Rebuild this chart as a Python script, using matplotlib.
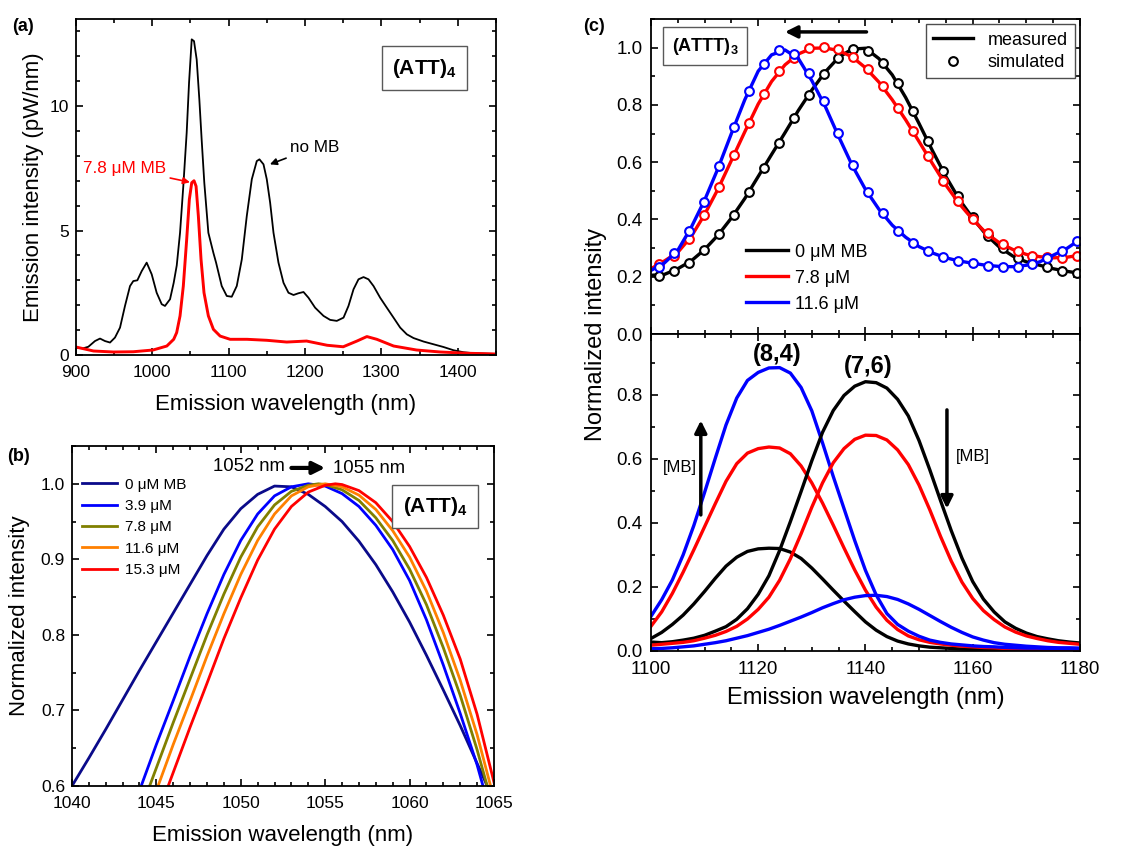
import matplotlib
matplotlib.use('Agg')
import matplotlib.pyplot as plt
from matplotlib.ticker import MultipleLocator, FormatStrFormatter

plt.rcParams['font.family'] = ['Liberation Sans', 'DejaVu Sans']
plt.rcParams['mathtext.fontset'] = 'custom'
plt.rcParams['mathtext.rm'] = 'Liberation Sans'
plt.rcParams['mathtext.bf'] = 'Liberation Sans:bold'
plt.rcParams['axes.linewidth'] = 1.3

# ---- panel (a): emission spectra of (ATT)4 ----
a_wl_nomb = [900, 909.6, 916.2, 924.9, 931.5, 938, 944.6, 951.1, 957.7, 964.2, 970.8, 975.1,
             980.4, 986.1, 992.6, 999.2, 1005.7, 1012.3, 1016.6, 1023.2, 1028, 1032, 1036.3,
             1040.6, 1045, 1048.1, 1051.6, 1054.6, 1058.1, 1061.6, 1064.6, 1068.1, 1073.4,
             1080, 1083.5, 1090.9, 1097.5, 1104, 1110.6, 1117.2, 1123.7, 1130.3, 1136.8,
             1140.3, 1145.6, 1149.9, 1154.3, 1158.7, 1165.2, 1171.8, 1178.3, 1184.9, 1191.4,
             1198, 1204.5, 1213.2, 1224.2, 1232.9, 1241.6, 1250.4, 1256.9, 1263.5, 1270,
             1276.6, 1283.1, 1289.7, 1298.4, 1307.1, 1315.9, 1324.6, 1333.3, 1342.1, 1355.2,
             1368.3, 1381.4, 1394.5, 1407.6, 1420.7, 1450]
a_int_nomb = [0.29, 0.27, 0.33, 0.56, 0.66, 0.56, 0.50, 0.70, 1.10, 1.97, 2.77, 2.97,
              3.00, 3.37, 3.71, 3.24, 2.50, 2.04, 1.97, 2.24, 2.90, 3.60, 4.91,
              6.79, 8.93, 10.94, 12.68, 12.61, 11.87, 10.26, 8.66, 6.91, 4.91,
              4.10, 3.71, 2.77, 2.37, 2.34, 2.77, 3.84, 5.58, 7.06, 7.79,
              7.86, 7.66, 7.06, 6.12, 4.91, 3.71, 2.90, 2.50, 2.41, 2.48,
              2.53, 2.30, 1.90, 1.57, 1.41, 1.37, 1.50, 1.97, 2.64, 3.04,
              3.13, 3.04, 2.77, 2.30, 1.90, 1.50, 1.10, 0.83, 0.68, 0.54,
              0.43, 0.32, 0.19, 0.11, 0.07, 0.04]
a_wl_mb = [900, 923, 949, 975, 1001, 1019, 1028, 1031.9, 1036.3, 1040.6, 1045, 1048.5, 1051.6,
           1054.6, 1057.3, 1060.3, 1063.8, 1067.7, 1073.4, 1080, 1088.8, 1101.9, 1124, 1150,
           1176, 1202, 1229, 1250, 1268, 1281, 1294, 1316, 1346, 1377, 1412, 1450]
a_int_mb = [0.32, 0.16, 0.12, 0.13, 0.20, 0.36, 0.63, 0.90, 1.57, 2.77, 4.64, 6.25, 6.92,
            7.00, 6.78, 5.58, 3.84, 2.50, 1.57, 1.03, 0.76, 0.63, 0.63, 0.59,
            0.52, 0.56, 0.39, 0.33, 0.56, 0.74, 0.63, 0.36, 0.20, 0.12, 0.07, 0.04]

# ---- panel (b): normalized peak region ----
b_labels = ['0 μM MB', '3.9 μM', '7.8 μM', '11.6 μM', '15.3 μM']
b_x_00 = [1040, 1041, 1042, 1043, 1044, 1045, 1046, 1047, 1048, 1049, 1050, 1051, 1052, 1053,
          1054, 1055, 1056, 1057, 1058, 1059, 1060, 1061, 1062, 1063, 1064, 1064.6]
b_y_00 = [0.600, 0.637, 0.675, 0.714, 0.753, 0.791, 0.829, 0.867, 0.905, 0.940, 0.967, 0.986,
          0.997, 0.996, 0.986, 0.970, 0.950, 0.924, 0.893, 0.857, 0.817, 0.773, 0.727, 0.680,
          0.630, 0.600]
b_x_39 = [1044.1, 1045, 1046, 1047, 1048, 1049, 1050, 1051, 1052, 1053, 1054, 1055, 1056,
          1057, 1058, 1059, 1060, 1061, 1062, 1063, 1064, 1064.35]
b_y_39 = [0.600, 0.655, 0.713, 0.772, 0.828, 0.880, 0.925, 0.960, 0.984, 0.996, 1.000, 0.997,
          0.987, 0.970, 0.945, 0.913, 0.872, 0.820, 0.760, 0.696, 0.628, 0.600]
b_x_78 = [1044.6, 1045, 1046, 1047, 1048, 1049, 1050, 1051, 1052, 1053, 1054, 1054.6, 1055,
          1056, 1057, 1058, 1059, 1060, 1061, 1062, 1063, 1064, 1064.6]
b_y_78 = [0.600, 0.624, 0.684, 0.742, 0.800, 0.854, 0.903, 0.943, 0.972, 0.990, 0.998, 1.000,
          0.999, 0.992, 0.978, 0.955, 0.925, 0.887, 0.840, 0.783, 0.720, 0.648, 0.600]
b_x_116 = [1045.1, 1046, 1047, 1048, 1049, 1050, 1051, 1052, 1053, 1054, 1055, 1056, 1057,
           1058, 1059, 1060, 1061, 1062, 1063, 1064, 1064.8]
b_y_116 = [0.600, 0.655, 0.713, 0.772, 0.828, 0.880, 0.925, 0.960, 0.984, 0.996, 1.000, 0.996,
           0.985, 0.966, 0.938, 0.903, 0.858, 0.803, 0.740, 0.668, 0.600]
b_x_153 = [1045.7, 1046, 1047, 1048, 1049, 1050, 1051, 1052, 1053, 1054, 1055, 1055.6, 1056,
           1057, 1058, 1059, 1060, 1061, 1062, 1063, 1064, 1065]
b_y_153 = [0.600, 0.618, 0.678, 0.736, 0.795, 0.849, 0.899, 0.940, 0.970, 0.989, 0.998, 1.000,
           0.999, 0.991, 0.975, 0.950, 0.917, 0.876, 0.826, 0.768, 0.695, 0.605]

# ---- panel (c) top: (ATTT)3 measured and simulated ----
c_labels = ['0 μM MB', '7.8 μM', '11.6 μM']
c_meas_x = [1100, 1102.5, 1105, 1107.5, 1110, 1112.5, 1115, 1117.5, 1120, 1122.5, 1125,
            1127.5, 1130, 1132.5, 1135, 1137.5, 1140, 1142.5, 1145, 1147.5, 1150, 1152.5,
            1155, 1157.5, 1160, 1162.5, 1165, 1167.5, 1170, 1172.5, 1175, 1177.5, 1180]
c_meas_0 = [0.205, 0.208, 0.228, 0.255, 0.295, 0.345, 0.405, 0.473, 0.550, 0.627, 0.703,
            0.781, 0.852, 0.915, 0.966, 0.995, 0.998, 0.962, 0.905, 0.826, 0.735, 0.640,
            0.550, 0.470, 0.405, 0.347, 0.303, 0.272, 0.252, 0.240, 0.228, 0.219, 0.212]
c_meas_78 = [0.228, 0.255, 0.285, 0.340, 0.417, 0.506, 0.606, 0.706, 0.803, 0.882, 0.940,
             0.978, 0.998, 0.999, 0.990, 0.968, 0.930, 0.880, 0.818, 0.748, 0.672, 0.595,
             0.520, 0.455, 0.400, 0.353, 0.318, 0.295, 0.278, 0.270, 0.266, 0.268, 0.275]
c_meas_116 = [0.222, 0.248, 0.292, 0.372, 0.467, 0.578, 0.700, 0.818, 0.918, 0.975, 0.992,
              0.962, 0.885, 0.795, 0.690, 0.590, 0.505, 0.436, 0.380, 0.338, 0.305, 0.283,
              0.266, 0.255, 0.247, 0.240, 0.236, 0.235, 0.240, 0.252, 0.275, 0.298, 0.330]
c_sim_x = [1101.5, 1104.3, 1107.1, 1109.9, 1112.7, 1115.5, 1118.2, 1121.0, 1123.8, 1126.6,
           1129.4, 1132.2, 1134.9, 1137.7, 1140.5, 1143.3, 1146.1, 1148.9, 1151.6, 1154.4,
           1157.2, 1160.0, 1162.8, 1165.6, 1168.4, 1171.1, 1173.9, 1176.7, 1179.5]
c_sim_0 = [0.203, 0.220, 0.249, 0.293, 0.349, 0.417, 0.495, 0.581, 0.666, 0.753, 0.834, 0.907,
           0.963, 0.994, 0.988, 0.947, 0.877, 0.780, 0.673, 0.571, 0.481, 0.409, 0.343, 0.299,
           0.267, 0.247, 0.233, 0.221, 0.214]
c_sim_78 = [0.243, 0.273, 0.331, 0.414, 0.513, 0.626, 0.737, 0.838, 0.917, 0.965, 0.998, 1.004,
            0.994, 0.968, 0.925, 0.867, 0.791, 0.708, 0.621, 0.536, 0.463, 0.401, 0.351, 0.314,
            0.290, 0.273, 0.268, 0.266, 0.273]
c_sim_116 = [0.235, 0.282, 0.359, 0.462, 0.586, 0.724, 0.849, 0.944, 0.991, 0.977, 0.913, 0.815,
             0.701, 0.591, 0.496, 0.421, 0.360, 0.319, 0.291, 0.270, 0.256, 0.247, 0.239, 0.235,
             0.235, 0.244, 0.264, 0.290, 0.324]

# ---- panel (c) bottom: (8,4) and (7,6) components ----
d_x = [1100, 1102, 1104, 1106, 1108, 1110, 1112, 1114, 1116, 1118, 1120, 1122, 1124, 1126,
       1128, 1130, 1132, 1134, 1136, 1138, 1140, 1142, 1144, 1146, 1148, 1150, 1152, 1154,
       1156, 1158, 1160, 1162, 1164, 1166, 1168, 1170, 1172, 1174, 1176, 1178, 1180]
d84_0 = [0.039, 0.058, 0.083, 0.112, 0.147, 0.186, 0.227, 0.265, 0.293, 0.311, 0.319, 0.321,
         0.320, 0.309, 0.289, 0.259, 0.225, 0.190, 0.156, 0.123, 0.091, 0.065, 0.045, 0.031,
         0.022, 0.016, 0.012, 0.010, 0.008, 0.006, 0.005, 0.004, 0.003, 0.003, 0.002, 0.002,
         0.002, 0.001, 0.001, 0.001, 0.001]
d84_78 = [0.077, 0.122, 0.180, 0.246, 0.316, 0.388, 0.460, 0.530, 0.585, 0.618, 0.632, 0.637,
          0.634, 0.616, 0.578, 0.525, 0.462, 0.393, 0.322, 0.253, 0.190, 0.137, 0.096, 0.067,
          0.047, 0.035, 0.027, 0.022, 0.018, 0.015, 0.013, 0.011, 0.010, 0.008, 0.007, 0.006,
          0.006, 0.005, 0.005, 0.004, 0.004]
d84_116 = [0.108, 0.160, 0.222, 0.300, 0.392, 0.495, 0.602, 0.706, 0.790, 0.845, 0.870, 0.884,
           0.885, 0.868, 0.823, 0.750, 0.650, 0.545, 0.445, 0.345, 0.252, 0.175, 0.117, 0.083,
           0.062, 0.046, 0.034, 0.027, 0.022, 0.019, 0.016, 0.014, 0.013, 0.011, 0.010, 0.009,
           0.009, 0.008, 0.008, 0.007, 0.007]
d76_0 = [0.028, 0.026, 0.029, 0.034, 0.040, 0.049, 0.062, 0.076, 0.099, 0.132, 0.177, 0.235,
         0.314, 0.404, 0.498, 0.594, 0.683, 0.751, 0.798, 0.827, 0.841, 0.838, 0.821, 0.786,
         0.734, 0.657, 0.566, 0.470, 0.376, 0.290, 0.217, 0.162, 0.122, 0.091, 0.071, 0.056,
         0.045, 0.038, 0.032, 0.028, 0.025]
d76_78 = [0.018, 0.021, 0.024, 0.027, 0.032, 0.040, 0.049, 0.061, 0.077, 0.100, 0.130, 0.168,
          0.221, 0.288, 0.366, 0.449, 0.525, 0.588, 0.632, 0.661, 0.674, 0.673, 0.659, 0.628,
          0.582, 0.518, 0.441, 0.358, 0.281, 0.215, 0.164, 0.126, 0.098, 0.075, 0.059, 0.047,
          0.039, 0.032, 0.027, 0.024, 0.021]
d76_116 = [0.007, 0.008, 0.010, 0.013, 0.016, 0.021, 0.026, 0.032, 0.040, 0.048, 0.058, 0.068,
           0.080, 0.093, 0.106, 0.120, 0.135, 0.148, 0.160, 0.168, 0.173, 0.174, 0.170, 0.161,
           0.147, 0.130, 0.111, 0.092, 0.074, 0.058, 0.044, 0.034, 0.026, 0.021, 0.018, 0.015,
           0.013, 0.011, 0.010, 0.010, 0.009]


def style_axes(ax, size, xpad, ypad):
    ax.tick_params(which='both', direction='in', top=True, right=True, width=1.2,
                   labelsize=size)
    ax.tick_params(which='major', length=5)
    ax.tick_params(which='minor', length=3)
    ax.tick_params(axis='x', pad=xpad)
    ax.tick_params(axis='y', pad=ypad)


fig = plt.figure(figsize=(11.44, 8.46), dpi=100)

# (a)
ax_a = fig.add_axes([0.0664, 0.5804, 0.3671, 0.3972])
ax_a.plot(a_wl_nomb, a_int_nomb, color='black', lw=1.3)
ax_a.plot(a_wl_mb, a_int_mb, color='red', lw=2.1)
ax_a.set_xlim(900, 1450)
ax_a.set_ylim(0, 13.5)
ax_a.xaxis.set_major_locator(MultipleLocator(100))
ax_a.xaxis.set_minor_locator(MultipleLocator(50))
ax_a.yaxis.set_major_locator(MultipleLocator(5))
ax_a.yaxis.set_minor_locator(MultipleLocator(1))
style_axes(ax_a, 12.5, 7, 5)
ax_a.set_xlabel('Emission wavelength (nm)', fontsize=16, labelpad=10)
ax_a.set_ylabel('Emission intensity (pW/nm)', fontsize=16)
ax_a.text(0.83, 0.853, r'(ATT)$_\mathbf{4}$', transform=ax_a.transAxes, fontsize=15,
          fontweight='bold', ha='center', va='center',
          bbox=dict(boxstyle='square,pad=0.5', fc='white', ec='0.35', lw=1))
ax_a.annotate('no MB', xy=(1154, 7.66), xytext=(1180, 8.34), fontsize=12.3,
              va='center', ha='left',
              arrowprops=dict(arrowstyle='-|>', color='black', lw=1.2, mutation_scale=10,
                              shrinkA=1, shrinkB=0))
ax_a.annotate('7.8 μM MB', xy=(1049.3, 6.94), xytext=(1018, 7.5), fontsize=12.3,
              color='red', va='center', ha='right',
              arrowprops=dict(arrowstyle='-|>', color='red', lw=1.2, mutation_scale=10,
                              shrinkA=1, shrinkB=0))
fig.text(0.011, 0.963, '(a)', fontsize=13, fontweight='bold')

# (b)
ax_b = fig.add_axes([0.0629, 0.0709, 0.3689, 0.4019])
b_xs = [b_x_00, b_x_39, b_x_78, b_x_116, b_x_153]
b_ys = [b_y_00, b_y_39, b_y_78, b_y_116, b_y_153]
b_colors = ['#0a0a8a', '#0000ff', '#808000', '#ff8000', '#ff0000']
for xs, ys, col, lab in zip(b_xs, b_ys, b_colors, b_labels):
    ax_b.plot(xs, ys, color=col, lw=2.0, label=lab)
ax_b.set_xlim(1040, 1065)
ax_b.set_ylim(0.6, 1.05)
ax_b.xaxis.set_major_locator(MultipleLocator(5))
ax_b.xaxis.set_minor_locator(MultipleLocator(1))
ax_b.yaxis.set_major_locator(MultipleLocator(0.1))
ax_b.yaxis.set_minor_locator(MultipleLocator(0.05))
ax_b.yaxis.set_major_formatter(FormatStrFormatter('%.1f'))
style_axes(ax_b, 12.5, 7, 5)
ax_b.set_xlabel('Emission wavelength (nm)', fontsize=16, labelpad=10)
ax_b.set_ylabel('Normalized intensity', fontsize=16, labelpad=8)
ax_b.legend(loc='upper left', bbox_to_anchor=(0.01, 0.925), frameon=False, fontsize=11,
            handlelength=2.3, handletextpad=0.5, labelspacing=0.48, borderaxespad=0)
ax_b.text(0.861, 0.822, r'(ATT)$_\mathbf{4}$', transform=ax_b.transAxes, fontsize=15,
          fontweight='bold', ha='center', va='center',
          bbox=dict(boxstyle='square,pad=0.5', fc='white', ec='0.35', lw=1))
ax_b.text(1050.5, 1.0225, '1052 nm', fontsize=13.3, ha='center', va='center')
ax_b.text(1057.6, 1.020, '1055 nm', fontsize=13.3, ha='center', va='center')
ax_b.annotate('', xy=(1055.0, 1.021), xytext=(1053.0, 1.021),
              arrowprops=dict(arrowstyle='-|>', color='black', lw=3, mutation_scale=18,
                              shrinkA=0, shrinkB=0))
fig.text(0.006, 0.455, '(b)', fontsize=13, fontweight='bold')

# (c) top
c_colors = ['black', 'red', 'blue']
ax_c1 = fig.add_axes([0.569, 0.6052, 0.375, 0.3723])
c_meas = [c_meas_0, c_meas_78, c_meas_116]
c_sim = [c_sim_0, c_sim_78, c_sim_116]
for ym, ysim, col, lab in zip(c_meas, c_sim, c_colors, c_labels):
    ax_c1.plot(c_meas_x, ym, color=col, lw=2.4, label=lab)
    ax_c1.plot(c_sim_x, ysim, 'o', color=col, mfc='white', mec=col, ms=6.3, mew=1.5)
ax_c1.set_xlim(1100, 1180)
ax_c1.set_ylim(0, 1.1)
ax_c1.xaxis.set_major_locator(MultipleLocator(20))
ax_c1.xaxis.set_minor_locator(MultipleLocator(5))
ax_c1.yaxis.set_major_locator(MultipleLocator(0.2))
ax_c1.yaxis.set_minor_locator(MultipleLocator(0.1))
ax_c1.yaxis.set_major_formatter(FormatStrFormatter('%.1f'))
style_axes(ax_c1, 13.5, 7, 6)
ax_c1.tick_params(labelbottom=False)
h_meas, = ax_c1.plot([], [], color='black', lw=2.4)
h_sim, = ax_c1.plot([], [], 'o', color='black', mfc='white', ms=6.3, mew=1.5)
leg1 = ax_c1.legend([h_meas, h_sim], ['measured', 'simulated'], loc='upper right',
                    bbox_to_anchor=(0.988, 0.983), fontsize=13, fancybox=False,
                    edgecolor='0.3', framealpha=1, handlelength=2.2, borderaxespad=0,
                    labelspacing=0.3, borderpad=0.4)
leg1.get_frame().set_linewidth(1)
ax_c1.add_artist(leg1)
line_handles = ax_c1.get_lines()[0:6:2]
ax_c1.legend(line_handles, c_labels, loc='upper left', bbox_to_anchor=(0.205, 0.31),
             frameon=False, fontsize=13, handlelength=2.3, handletextpad=0.4,
             labelspacing=0.5, borderaxespad=0)
ax_c1.text(0.126, 0.914, r'(ATTT)$_\mathbf{3}$', transform=ax_c1.transAxes, fontsize=13,
           fontweight='bold', ha='center', va='center',
           bbox=dict(boxstyle='square,pad=0.45', fc='white', ec='0.35', lw=1))
ax_c1.annotate('', xy=(1125.0, 1.055), xytext=(1140.2, 1.055),
               arrowprops=dict(arrowstyle='-|>', color='black', lw=2.5, mutation_scale=18,
                               shrinkA=0, shrinkB=0))
fig.text(0.51, 0.963, '(c)', fontsize=13, fontweight='bold')

# (c) bottom
ax_c2 = fig.add_axes([0.569, 0.2305, 0.375, 0.3747])
d_sets = [(d84_0, 'black'), (d84_78, 'red'), (d84_116, 'blue'),
          (d76_0, 'black'), (d76_78, 'red'), (d76_116, 'blue')]
for ys, col in d_sets:
    ax_c2.plot(d_x, ys, color=col, lw=2.4)
ax_c2.set_xlim(1100, 1180)
ax_c2.set_ylim(0, 0.99)
ax_c2.xaxis.set_major_locator(MultipleLocator(20))
ax_c2.xaxis.set_minor_locator(MultipleLocator(5))
ax_c2.yaxis.set_major_locator(MultipleLocator(0.2))
ax_c2.yaxis.set_minor_locator(MultipleLocator(0.1))
ax_c2.yaxis.set_major_formatter(FormatStrFormatter('%.1f'))
style_axes(ax_c2, 13.5, 7, 6)
ax_c2.set_xlabel('Emission wavelength (nm)', fontsize=17, labelpad=7)
ax_c2.text(1123.5, 0.925, '(8,4)', fontsize=17, fontweight='bold', ha='center', va='center')
ax_c2.text(1140.6, 0.889, '(7,6)', fontsize=17, fontweight='bold', ha='center', va='center')
ax_c2.annotate('', xy=(1109.3, 0.72), xytext=(1109.3, 0.425),
               arrowprops=dict(arrowstyle='-|>', color='black', lw=2.5, mutation_scale=18,
                               shrinkA=0, shrinkB=0))
ax_c2.annotate('', xy=(1155.2, 0.445), xytext=(1155.2, 0.753),
               arrowprops=dict(arrowstyle='-|>', color='black', lw=2.5, mutation_scale=18,
                               shrinkA=0, shrinkB=0))
ax_c2.text(1108.5, 0.574, '[MB]', fontsize=12, ha='right', va='center')
ax_c2.text(1156.8, 0.607, '[MB]', fontsize=12, ha='left', va='center')

fig.text(0.521, 0.605, 'Normalized intensity', fontsize=17, rotation=90,
         ha='center', va='center')

fig.savefig('out.png', dpi=100)
